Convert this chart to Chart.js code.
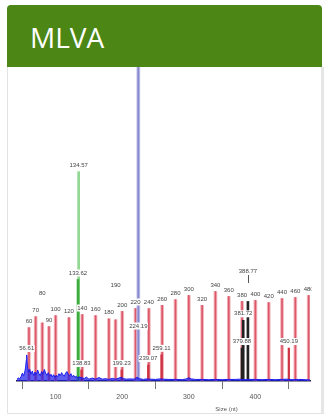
<!DOCTYPE html>
<html>
<head>
<meta charset="utf-8">
<script src="https://cdn.jsdelivr.net/npm/chart.js@4.4.1/dist/chart.umd.min.js"></script>
<style>
  html, body { margin: 0; padding: 0; background: #fff; width: 333px; height: 419px; overflow: hidden; }
  #card { position: absolute; left: 7px; top: 5px; width: 315px; height: 409px; box-sizing: border-box;
          border: 1px solid #e3e3e3; border-radius: 4px 4px 0 0; background: #fff; }
  #head { position: absolute; left: 7px; top: 5px; width: 315px; height: 62px; background: #4c8614;
          border-radius: 4px 4px 0 0; }
  #head span { position: absolute; left: 23px; top: 18px; line-height: 28px; font-size: 28px; color: #fff;
               font-family: "Open Sans", "Liberation Sans", Arial, sans-serif; letter-spacing: 0; }
  #edge { position: absolute; left: 321px; top: 67px; width: 3px; height: 347px; background: #e6e6e6; }
  #wrap { position: absolute; left: 8px; top: 67px; width: 313px; height: 346px; }
</style>
</head>
<body>
<div id="card"></div>
<div id="head"><span>MLVA</span></div>
<div id="edge"></div>
<div id="wrap"><canvas id="c"></canvas></div>
<script>
// Fragment sizes (nt) and peak heights (RFU)
const xTicks = [100, 200, 300, 400];

const ladderSizes = [60, 70, 80, 90, 100, 120, 140, 160, 180, 190, 200, 220, 240, 260, 280, 300, 320, 340, 360, 380, 400, 420, 440, 460, 480];
const ladderRFU   = [1020, 1230, 1110, 1040, 1250, 1210, 1270, 1250, 1190, 1170, 1330, 1385, 1385, 1445, 1555, 1635, 1445, 1710, 1615, 1520, 1540, 1500, 1575, 1595, 1635];

const greenSizes = [133.62, 134.57];
const greenRFU   = [1940, 4000];

const purpleSizes = [224.19];
const purpleRFU   = [7200];

const redSampleSizes = [138.83, 199.23, 239.07, 259.11, 450.19];
const redSampleRFU   = [210, 210, 305, 500, 630];

const blackSizes = [379.88, 381.72, 388.77];
const blackRFU   = [630, 1160, 1520];

const blueSizes = [42, 44, 46, 48, 50, 52, 54, 55, 56, 56.61, 57.5, 59, 61, 63, 65, 67, 69, 71, 73, 75,
  77, 79, 81, 83, 85, 87, 89, 91, 93, 95, 97, 99, 101, 103, 105, 107, 109, 111, 113, 115,
  117, 119, 121, 123, 125, 127, 129, 131, 133, 135, 137, 140, 143, 146, 150, 155, 160, 165, 170, 175,
  180, 185, 190, 195, 198, 202, 206, 212, 218, 222, 226, 232, 236, 242, 250, 256, 262, 270, 280, 290,
  296, 300, 304, 310, 320, 330, 340, 350, 360, 370, 376, 384, 392, 400, 410, 420, 430, 440, 446, 455,
  465, 475, 482];
const blueRFU = [30, 60, 40, 80, 150, 100, 190, 270, 400, 497, 320, 170, 230, 130, 190, 100, 170, 120, 210, 140,
  100, 180, 130, 220, 150, 110, 160, 90, 130, 80, 120, 70, 110, 80, 140, 100, 160, 120, 90, 150,
  180, 130, 100, 140, 80, 110, 70, 90, 60, 80, 70, 60, 45, 75, 35, 55, 35, 65, 35, 45,
  30, 50, 35, 55, 70, 45, 35, 40, 35, 70, 45, 30, 40, 35, 30, 40, 35, 30, 30, 25,
  40, 60, 40, 30, 30, 25, 30, 25, 30, 30, 35, 25, 30, 30, 25, 30, 25, 30, 35, 25,
  30, 25, 20];

const pts = (xs, ys) => xs.map((x, i) => ({ x: x, y: ys[i] }));

function peakSet(xs, ys, color, width, order) {
  return { type: 'bar', data: pts(xs, ys), backgroundColor: color, barThickness: width,
           grouped: false, order: order, borderWidth: 0 };
}

// Size labels drawn above each peak on a white tag
const peakLabels = {
  id: 'peakLabels',
  afterDatasetsDraw(chart, args, opts) {
    const { ctx, chartArea: a, scales: { x, y } } = chart;
    const items = [];
    ladderSizes.forEach((s, i) => items.push({ s, h: ladderRFU[i], t: String(s) }));
    greenSizes.forEach((s, i) => items.push({ s, h: greenRFU[i], t: s.toFixed(2) }));
    purpleSizes.forEach((s, i) => items.push({ s, h: purpleRFU[i], t: s.toFixed(2) }));
    redSampleSizes.forEach((s, i) => items.push({ s, h: redSampleRFU[i], t: s.toFixed(2) }));
    blackSizes.forEach((s, i) => items.push({ s, h: blackRFU[i], t: s.toFixed(2) }));
    items.push({ s: 56.61, h: blueRFU[blueSizes.indexOf(56.61)], t: '56.61' });

    ctx.save();
    ctx.beginPath();
    ctx.rect(0, 0, a.right + 1.5, a.bottom);
    ctx.clip();
    ctx.font = '6px "Liberation Sans", Arial, sans-serif';
    ctx.textAlign = 'center';
    ctx.textBaseline = 'middle';
    items.forEach(it => {
      const px = x.getPixelForValue(it.s);
      const top = Math.max(y.getPixelForValue(it.h), a.top);
      const lift = opts.lift[it.t] || 0;
      const py = top - 6.5 - lift;
      const w = ctx.measureText(it.t).width;
      if (opts.leader.includes(it.t)) {
        ctx.strokeStyle = '#555';
        ctx.lineWidth = 1;
        ctx.beginPath();
        ctx.moveTo(Math.round(px) + 0.5, py + 4);
        ctx.lineTo(Math.round(px) + 0.5, py + 12);
        ctx.stroke();
      }
      ctx.fillStyle = '#fff';
      ctx.fillRect(px - w / 2 - 0.5, py - 3.5, w + 1, 7);
      ctx.fillStyle = '#444';
      ctx.fillText(it.t, px, py);
    });
    ctx.restore();

    // axis caption
    ctx.save();
    ctx.font = '6px "Liberation Sans", Arial, sans-serif';
    ctx.fillStyle = '#555';
    ctx.textAlign = 'center';
    ctx.textBaseline = 'middle';
    ctx.fillText('Size (nt)', a.left + (a.right - a.left) * 0.715, a.bottom + 28);
    ctx.restore();
  }
};

new Chart(document.getElementById('c'), {
  type: 'bar',
  data: {
    datasets: [
      peakSet(ladderSizes, ladderRFU, 'rgba(240,168,178,0.85)', 3, 9),
      peakSet(ladderSizes, ladderRFU, 'rgba(216,72,88,0.85)', 1, 8),
      peakSet([greenSizes[1]], [greenRFU[1]], 'rgb(146,216,146)', 2, 7),
      peakSet([greenSizes[0]], [greenRFU[0]], 'rgb(60,172,60)', 2, 6),
      peakSet(purpleSizes, purpleRFU, 'rgba(182,182,230,0.9)', 3, 5),
      peakSet(purpleSizes, purpleRFU, 'rgb(136,136,206)', 1, 4),
      peakSet(redSampleSizes, redSampleRFU, 'rgb(206,52,66)', 1.6, 3),
      peakSet(blackSizes, blackRFU, 'rgb(34,34,34)', 2, 2),
      {
        type: 'line', data: pts(blueSizes, blueRFU), order: 0,
        borderColor: 'rgb(26,26,236)', borderWidth: 1, backgroundColor: 'rgba(26,26,236,0.7)',
        fill: 'origin', pointRadius: 0, tension: 0
      }
    ]
  },
  options: {
    responsive: true,
    maintainAspectRatio: false,
    animation: false,
    devicePixelRatio: 1,
    layout: { padding: { left: 9, right: 11, top: 0, bottom: 0 } },
    plugins: {
      legend: { display: false },
      tooltip: { enabled: false },
      peakLabels: {
        lift: { '80': 23, '190': 28, '388.77': 24, '224.19': -265.5 },
        leader: ['388.77']
      }
    },
    scales: {
      x: {
        type: 'linear', min: 42, max: 482, offset: false,
        afterBuildTicks: s => { s.ticks = xTicks.map(v => ({ value: v })); },
        afterFit: s => { s.height = 32; },
        grid: { drawOnChartArea: false, drawTicks: true, tickLength: 8, color: '#777', lineWidth: 1 },
        border: { display: true, color: '#222240', width: 1.5 },
        ticks: { color: '#555', padding: 4, maxRotation: 0, autoSkip: false,
                 font: { size: 7, family: '"Liberation Sans", Arial, sans-serif' } }
      },
      y: { display: false, min: 0, max: 6000 }
    }
  },
  plugins: [peakLabels]
});
</script>
</body>
</html>
